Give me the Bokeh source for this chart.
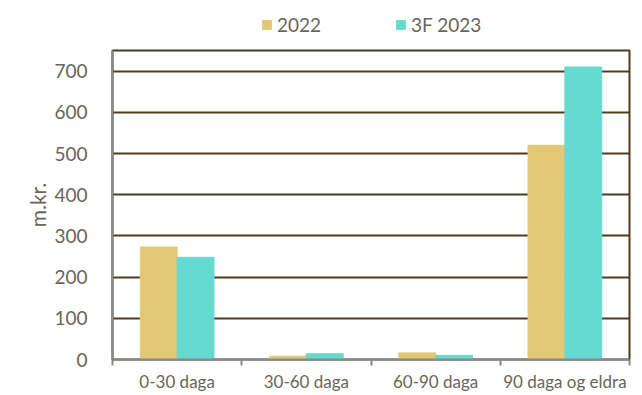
from bokeh.plotting import figure
from bokeh.layouts import column
from bokeh.models import Range1d, FixedTicker, Legend, LegendItem, ColumnDataSource
from bokeh.transform import dodge
from bokeh.embed import file_html
from bokeh.resources import INLINE

categories = ["0-30 daga", "30-60 daga", "60-90 daga", "90 daga og eldra"]
series_names = ["2022", "3F 2023"]
values_2022 = [273, 8, 16, 520]
values_2023 = [248, 14, 10, 710]
y_ticks = [0, 100, 200, 300, 400, 500, 600, 700]
y_label = "m.kr."

GOLD = "#E2C874"
TEAL = "#66D9D1"
GRID = "#4d3d1c"
AXIS = "#8a8a8a"
TEXT = "#6b6557"
FONT = "Lato"

centers = [i + 0.5 for i in range(len(categories))]
src = ColumnDataSource(dict(x=centers, v1=values_2022, v2=values_2023))
bw = 0.285

# ---- legend strip (bars kept out of view; only the legend shows) ----
lg = figure(width=634, height=42, x_range=Range1d(0, len(categories)), y_range=Range1d(5000, 5001),
            output_backend="svg", toolbar_location=None,
            x_axis_location=None, y_axis_location=None,
            min_border_left=112, min_border_right=5, min_border_top=0, min_border_bottom=0)
lg.outline_line_color = None
lg.xgrid.grid_line_color = None
lg.ygrid.grid_line_color = None
l1 = lg.vbar(x="x", top="v1", width=bw, source=src, fill_color=GOLD, line_color=GOLD)
l2 = lg.vbar(x="x", top="v2", width=bw, source=src, fill_color=TEAL, line_color=TEAL)
legend = Legend(items=[LegendItem(label=series_names[0], renderers=[l1]),
                       LegendItem(label=series_names[1], renderers=[l2])],
                orientation="horizontal", location=(149, 6),
                glyph_width=11, glyph_height=11, label_standoff=5, spacing=74,
                padding=0, margin=0, border_line_color=None, background_fill_alpha=0,
                label_text_font=FONT, label_text_font_size="19px", label_text_color=TEXT)
lg.add_layout(legend, "center")

# ---- main chart ----
p = figure(width=634, height=352, x_range=Range1d(0, len(categories)), y_range=Range1d(0, 750),
           output_backend="svg", toolbar_location=None,
           min_border_left=112, min_border_right=5, min_border_top=8, min_border_bottom=34)

r1 = p.vbar(x=dodge("x", -bw / 2, range=p.x_range), top="v1", width=bw, source=src,
            fill_color=GOLD, line_color=GOLD)
r2 = p.vbar(x=dodge("x", bw / 2, range=p.x_range), top="v2", width=bw, source=src,
            fill_color=TEAL, line_color=TEAL)

p.outline_line_color = GRID
p.outline_line_width = 2

p.xgrid.grid_line_color = None
p.ygrid.grid_line_color = GRID
p.ygrid.grid_line_width = 2

ya = p.yaxis[0]
ya.ticker = FixedTicker(ticks=y_ticks)
ya.axis_line_color = AXIS
ya.axis_line_width = 2
ya.major_tick_line_color = None
ya.minor_tick_line_color = None
ya.major_label_text_font = FONT
ya.major_label_text_font_size = "19px"
ya.major_label_text_color = TEXT
ya.major_label_standoff = 19
ya.axis_label = y_label
ya.axis_label_text_font = FONT
ya.axis_label_text_font_size = "21px"
ya.axis_label_text_font_style = "normal"
ya.axis_label_text_color = TEXT
ya.axis_label_standoff = 1

xa = p.xaxis[0]
xa.ticker = FixedTicker(ticks=centers, minor_ticks=list(range(len(categories) + 1)))
xa.major_label_overrides = {c: lab for c, lab in zip(centers, categories)}
xa.axis_line_color = AXIS
xa.axis_line_width = 2
xa.major_tick_line_color = None
xa.major_tick_out = 0
xa.minor_tick_line_color = AXIS
xa.minor_tick_line_width = 2
xa.minor_tick_in = 0
xa.minor_tick_out = 6
xa.major_label_text_font = FONT
xa.major_label_text_font_size = "17px"
xa.major_label_text_color = TEXT
xa.major_label_standoff = 5

layout = column(lg, p, spacing=0)
open("out.html", "w").write(file_html(layout, INLINE))
